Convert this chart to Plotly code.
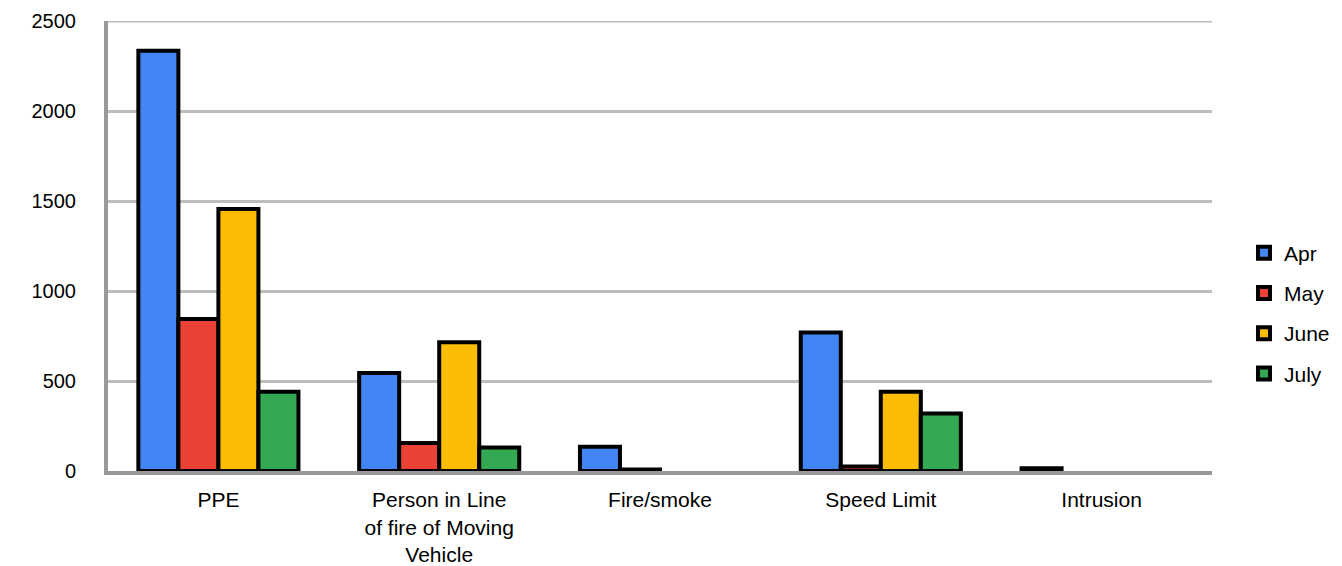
import plotly.graph_objects as go

categories = ["PPE", "Person in Line<br>of fire of Moving<br>Vehicle", "Fire/smoke", "Speed Limit", "Intrusion"]
apr = [2335, 545, 135, 770, 15]
may = [845, 155, 8, 25, 0]
june = [1455, 715, 0, 440, 0]
july = [440, 130, 0, 320, 0]

series = [
    ("Apr", apr, "#4285F4"),
    ("May", may, "#EA4335"),
    ("June", june, "#FBBC04"),
    ("July", july, "#34A853"),
]

FONT = "Liberation Sans, Arial, sans-serif"
Y_MAX = 2500

fig = go.Figure()
for name, vals, color in series:
    # empty categories get no bar (avoids an outlined sliver at zero)
    shown = [v if v else None for v in vals]
    fig.add_trace(go.Bar(
        x=categories, y=shown, name=name, legendgroup=name,
        marker=dict(color=color, line=dict(color="black", width=4)),
    ))

# top gridline at the end of the value range
fig.add_shape(type="line", xref="paper", yref="y", x0=0, x1=1, y0=Y_MAX, y1=Y_MAX,
              line=dict(color="#BDBDBD", width=3), layer="below")

fig.update_layout(
    width=1342, height=566,
    margin=dict(l=108, r=130, t=21, b=95, autoexpand=False),
    plot_bgcolor="white", paper_bgcolor="white",
    barmode="group", bargap=0.275, bargroupgap=0,
    font=dict(family=FONT, size=20, color="black"),
    legend=dict(
        x=1.029, xanchor="left", y=0.35, yanchor="middle",
        font=dict(family=FONT, size=21), tracegroupgap=10,
        itemwidth=30,
    ),
    xaxis=dict(
        showline=True, linecolor="#999999", linewidth=4, automargin=False,
        showgrid=False, ticks="", ticklabelstandoff=7,
        tickfont=dict(family=FONT, size=21),
    ),
    yaxis=dict(
        range=[0, Y_MAX], tickvals=[0, 500, 1000, 1500, 2000, 2500],
        showline=True, linecolor="#999999", linewidth=4, automargin=False,
        showgrid=True, gridcolor="#BDBDBD", gridwidth=3,
        zeroline=False, ticks="", ticklabelstandoff=24,
    ),
)

fig.write_html("out.html")
